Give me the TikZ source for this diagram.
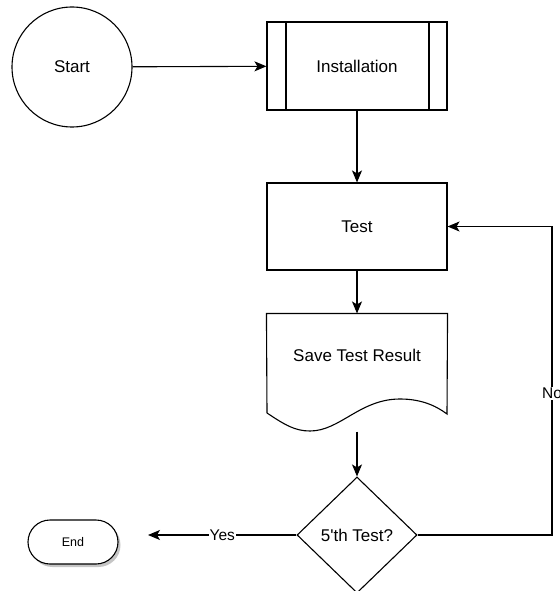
\documentclass[tikz,border=0pt]{standalone}
\usepackage{fontspec}
\setmainfont{Liberation Sans}
\usetikzlibrary{arrows.meta, positioning, calc, shapes.geometric, shadows}

\begin{document}
\begin{tikzpicture}[
	x=1pt, y=-1pt,
	line width=1.1pt,
	box/.style={draw, minimum width=180pt, minimum height=88pt, inner sep=0pt, font=\fontsize{17}{20}\selectfont},
	subproc/.style={box, path picture={
		\draw ([xshift=19pt]path picture bounding box.north west) -- ([xshift=19pt]path picture bounding box.south west);
		\draw ([xshift=-18pt]path picture bounding box.north east) -- ([xshift=-18pt]path picture bounding box.south east);}},
	term/.style={draw, circle, minimum size=120pt, inner sep=0pt, font=\fontsize{17}{20}\selectfont},
	decide/.style={draw, diamond, minimum width=120pt, minimum height=116pt, inner sep=0pt, font=\fontsize{17}{20}\selectfont},
	ender/.style={draw, fill=white, rounded corners=22pt, minimum width=90pt, minimum height=44pt, inner sep=0pt, font=\fontsize{12.5}{15}\selectfont,
		drop shadow={fill=black!45, opacity=.5, shadow xshift=2.5pt, shadow yshift=-3pt}},
	lbl/.style={fill=white, inner sep=1pt, font=\fontsize{15.5}{18}\selectfont},
	flow/.style={->},
	>={Stealth[length=12pt, width=10pt, inset=3pt]}
	]
	\useasboundingbox (0,0) rectangle (559,591);

	% nodes
	\node[term] (start) at (72,67) {Start};
	\node[subproc] (inst) at (357,66) {Installation};
	\node[box, minimum height=87pt] (test) at (357,226.5) {Test};
	\node[minimum width=180pt, minimum height=117pt, inner sep=0pt, text depth=35pt, font=\fontsize{17}{20}\selectfont] (save) at (357,372.5) {Save Test Result};
	\node[decide] (dec) at (357,535) {5\textquotesingle th Test?};
	\node[ender] (end) at (73,542) {End};
	\coordinate (yesend) at (148,535);
	\coordinate (noturn) at (552,535);

	% document outline
	\draw (267,413) -- (save.north west) -- (save.north east) -- (447,414)
		.. controls (435,405) and (420,399) .. (400,399)
		.. controls (360,399) and (340,431) .. (310,431)
		.. controls (295,431) and (285,425) .. (267,413);

	% connectors
	\draw[flow] (start) -- (inst);
	\draw[flow] (inst) -- (test);
	\draw[flow] (test) -- (save);
	\draw[flow] (save.south) -- (dec);
	\draw[flow] (dec.west) -- node[lbl] {Yes} (yesend);
	\draw[flow] (dec.east) -- (noturn) |- node[lbl, pos=0.23] {No} (test.east);
\end{tikzpicture}
\end{document}
